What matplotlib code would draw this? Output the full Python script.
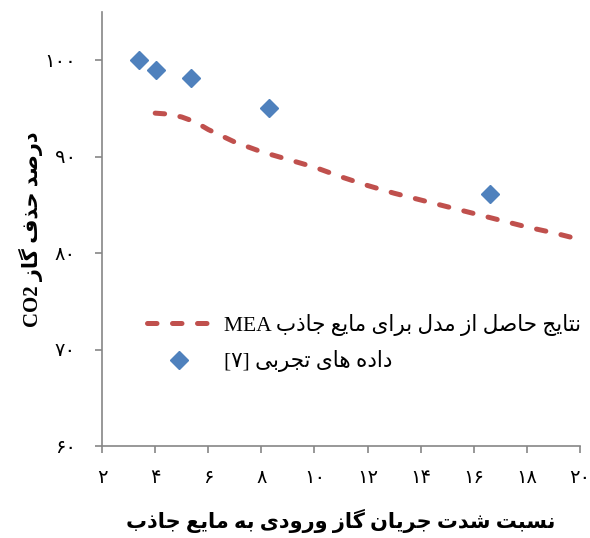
import numpy as np
import matplotlib
matplotlib.use("Agg")
import matplotlib.pyplot as plt

# ---- data
ratio_exp = [3.4, 4.05, 5.35, 8.3, 16.6]
removal_exp = [100.0, 99.0, 98.1, 95.0, 86.1]

ratio_model = [4.0, 4.5, 5.0, 5.5, 6.0, 7.0, 8.0, 9.0, 10.0, 11.0, 12.0, 13.0,
               14.0, 15.0, 16.0, 17.0, 18.0, 19.0, 20.0]
removal_model = [94.5, 94.4, 94.1, 93.6, 92.8, 91.5, 90.5, 89.7, 88.9, 87.9,
                 87.0, 86.2, 85.5, 84.8, 84.1, 83.4, 82.7, 82.1, 81.4]

xticks = [2, 4, 6, 8, 10, 12, 14, 16, 18, 20]
yticks = [60, 70, 80, 90, 100]
xtick_labels = ['۲', '۴', '۶', '۸', '۱۰', '۱۲', '۱۴', '۱۶', '۱۸', '۲۰']
ytick_labels = ['۶۰', '۷۰', '۸۰', '۹۰', '۱۰۰']

xlabel_fa = 'نسبت شدت جریان گاز ورودی به مایع جاذب'
ylabel_fa = 'درصد حذف گاز'
model_fa = 'نتایج حاصل از مدل برای مایع جاذب'
exp_fa = 'داده های تجربی'

# ---- tiny arabic/persian shaper (matplotlib has no shaping / bidi)
# iso, fin, ini, med ; None -> letter does not join to the next one
FORMS = {
    'ا': (0xFE8D, 0xFE8E, None, None),
    'ب': (0xFE8F, 0xFE90, 0xFE91, 0xFE92),
    'ت': (0xFE95, 0xFE96, 0xFE97, 0xFE98),
    'ج': (0xFE9D, 0xFE9E, 0xFE9F, 0xFEA0),
    'ح': (0xFEA1, 0xFEA2, 0xFEA3, 0xFEA4),
    'د': (0xFEA9, 0xFEAA, None, None),
    'ذ': (0xFEAB, 0xFEAC, None, None),
    'ر': (0xFEAD, 0xFEAE, None, None),
    'ز': (0xFEAF, 0xFEB0, None, None),
    'س': (0xFEB1, 0xFEB2, 0xFEB3, 0xFEB4),
    'ش': (0xFEB5, 0xFEB6, 0xFEB7, 0xFEB8),
    'ص': (0xFEB9, 0xFEBA, 0xFEBB, 0xFEBC),
    'ع': (0xFEC9, 0xFECA, 0xFECB, 0xFECC),
    'ف': (0xFED1, 0xFED2, 0xFED3, 0xFED4),
    'ل': (0xFEDD, 0xFEDE, 0xFEDF, 0xFEE0),
    'م': (0xFEE1, 0xFEE2, 0xFEE3, 0xFEE4),
    'ن': (0xFEE5, 0xFEE6, 0xFEE7, 0xFEE8),
    'ه': (0xFEE9, 0xFEEA, 0xFEEB, 0xFEEC),
    'و': (0xFEED, 0xFEEE, None, None),
    'ی': (0xFEEF, 0xFEF0, 0xFEF3, 0xFEF4),
    'گ': (0xFB92, 0xFB93, 0xFB94, 0xFB95),
}


def fa(s):
    out = []
    for i, ch in enumerate(s):
        if ch not in FORMS:
            out.append(ch)
            continue
        prev = s[i - 1] if i > 0 else ''
        nxt = s[i + 1] if i + 1 < len(s) else ''
        jp = prev in FORMS and FORMS[prev][2] is not None
        jn = FORMS[ch][2] is not None and nxt in FORMS
        iso, fin, ini, med = FORMS[ch]
        if jp and jn:
            cp = med
        elif jp:
            cp = fin
        elif jn:
            cp = ini
        else:
            cp = iso
        out.append(chr(cp))
    return ''.join(out)[::-1]


plt.rcParams['font.family'] = ['Liberation Serif', 'DejaVu Sans']

fig = plt.figure(figsize=(5.9, 5.38), dpi=100)
ax = fig.add_axes([0.173, 0.171, 0.810, 0.807])

ax.plot(ratio_model, removal_model, color='#C0504D', lw=3.6,
        dashes=(1.9, 3.1), dash_capstyle='round', label='MEA ' + fa(model_fa))
ax.plot(ratio_exp, removal_exp, 'D', color='#4F81BD', ms=9.5, mec='#4F81BD',
        label='[۷] ' + fa(exp_fa))

ax.set_xlim(2, 20)
ax.set_ylim(60, 105)
ax.set_xticks(xticks)
ax.set_xticklabels(xtick_labels)
ax.set_yticks(yticks)
ax.set_yticklabels(ytick_labels)

for side in ['top', 'right']:
    ax.spines[side].set_visible(False)
for side in ['left', 'bottom']:
    ax.spines[side].set_color('#868686')
    ax.spines[side].set_linewidth(1.2)
ax.tick_params(axis='both', direction='out', length=5, width=1.2, color='#868686',
               labelsize=14, labelcolor='black')
ax.tick_params(axis='x', pad=12)
ax.tick_params(axis='y', pad=14)

ax.set_xlabel(fa(xlabel_fa), fontsize=15, fontweight='bold', labelpad=16)
ax.set_ylabel('CO2 ' + fa(ylabel_fa), fontsize=15, fontweight='bold', labelpad=1)

ax.legend(loc='upper left', bbox_to_anchor=(0.075, 0.325), frameon=False,
          fontsize=15.5, handlelength=3.0, handletextpad=0.6, labelspacing=0.68,
          borderaxespad=0)

fig.savefig('out.png', dpi=100)
